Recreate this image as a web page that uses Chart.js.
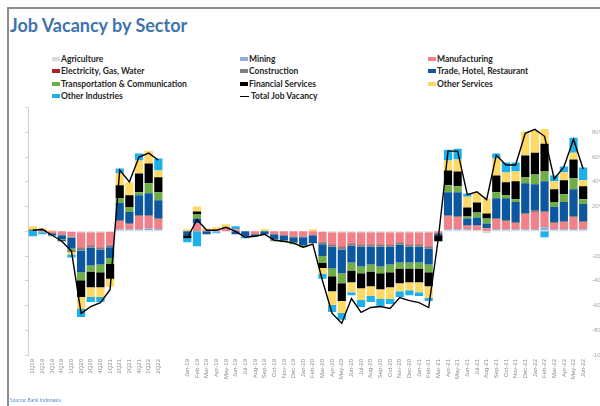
<!DOCTYPE html>
<html>
<head>
<meta charset="utf-8">
<script src="https://cdn.jsdelivr.net/npm/chart.js@4"></script>
<style>
body{margin:0;width:600px;height:406px;overflow:hidden;background:#fff;position:relative;font-family:Lato,'Liberation Sans',sans-serif}
#frame{position:absolute;left:7px;top:7px;width:600px;height:400px;border-top:2px solid #8c8c8c;border-left:2px solid #8c8c8c}
#title{position:absolute;left:10px;top:14px;font-size:18px;font-weight:bold;color:#3f73ae}
#legend{position:absolute;left:52px;top:53px;display:grid;grid-template-columns:188px 188px 188px;grid-auto-rows:12.3px;font-size:8.5px;font-weight:bold;color:#262626}
.item{display:flex;align-items:center;white-space:nowrap}
.box{width:8px;height:4px;margin-right:1px}
.ln{width:9px;height:1px;background:#000;margin-right:2px}
#wrap{position:absolute;left:0;top:100px;width:640px;height:306px}
#src{position:absolute;left:10px;top:397px;font-size:5px;color:#5b8fc9}
</style>
</head>
<body>
<div id="frame"></div>
<div id="title">Job Vacancy by Sector</div>
<div id="legend"></div>
<div id="wrap"><canvas id="jobChart" width="640" height="306"></canvas></div>
<div id="src">Source: Bank Indonesia</div>
<script>
// categories
var quarterLabels = ['1Q19','2Q19','3Q19','4Q19','1Q20','2Q20','3Q20','4Q20','1Q21','2Q21','3Q21','4Q21','1Q22','2Q22'];
var monthLabels = ['Jan-19','Feb-19','Mar-19','Apr-19','May-19','Jun-19','Jul-19','Aug-19','Sep-19','Oct-19','Nov-19','Dec-19',
  'Jan-20','Feb-20','Mar-20','Apr-20','May-20','Jun-20','Jul-20','Aug-20','Sep-20','Oct-20','Nov-20','Dec-20',
  'Jan-21','Feb-21','Mar-21','Apr-21','May-21','Jun-21','Jul-21','Aug-21','Sep-21','Oct-21','Nov-21','Dec-21',
  'Jan-22','Feb-22','Mar-22','Apr-22','May-22','Jun-22'];

// contributions, quarterly (Q) and monthly (M)
var agriQ = [0,0,0,0,-0.4,-0.8,-0.8,-0.8,-0.4,0.8,0.8,0.8,0.8,0.8];
var agriM = [0,0,0,0,0,0,0,0,0,0,0,0, 0,0,-0.4,-0.8,-0.8,-0.8,-0.8,-0.8,-0.8,-0.8,-0.8,-0.8, -0.8,-0.8,0,0.8,0.8,0.8,0.8,-1.6,0.8,0.8,0.8,0.8, 0.8,0.8,0.8,0.8,0.8,0.8];
var miningQ = [0,0,0,0,0,0,0,0,0,0.8,0.8,0.8,1.6,0.8];
var miningM = [0,0,0,-0.8,0,0,0,0,0,0,0,0, 0,0,0,0,0,0,0,0,0,0,0,0, 0,0,0,0.8,0.8,0.8,0,0,0.8,0.8,0.8,0.8, 0.8,2.4,0.8,0.8,0.8,0.8];
var manufQ = [0,-0.8,-1.6,-2.4,-4,-12,-10.4,-12,-10.4,6.4,4,10.4,9.6,8];
var manufM = [0,6.4,0.8,1.6,2.4,1.6,0,-2.4,0,-2.4,-3.2,-4, -4,-3.2,-8,-9.6,-11.2,-8.8,-9.6,-9.6,-9.6,-9.6,-8,-9.6, -9.6,-11.2,-1.6,10.4,9.6,2.4,3.2,2.4,8,6.4,4.8,12, 13.6,12,4.8,5.6,9.6,5.6];
var elecQ = [0,0,0,0,0,-0.4,-0.4,-0.4,-0.4,0.4,0.4,0.4,0.4,0.4];
var elecM = [0,0,0,0,0,0,0,0,0,0,0,0, 0,0,-0.4,-0.4,-0.4,-0.4,-0.4,-0.4,-0.4,-0.4,-0.4,-0.4, -0.4,-0.4,0,0.4,0.4,0.4,0.4,0,0.4,0.4,0.4,0.4, 0.4,0.4,0.4,0.4,0.4,0.4];
var constrQ = [0,0,0,-0.8,-0.8,-2.4,-1.6,-1.6,-1.6,0.8,0.8,0.8,0.8,0.8];
var constrM = [0,0,0,0,0.8,0,0,0,0,0,0,-0.8, -0.8,0,-1.6,-1.6,-2.4,-1.6,-1.6,-1.6,-1.6,-1.6,-1.6,-1.6, -1.6,-1.6,0,0.8,0.8,0.4,0.4,0,0.8,0.8,0.8,0.8, 1.6,0.8,0.8,0.8,0.8,0.8];
var tradeQ = [0.8,0.8,-1.6,-3.2,-8.8,-17.6,-14.4,-12,-8.8,13.6,8.8,16,17.6,14.4];
var tradeM = [-3.2,4,-2.4,0,0,-2.4,-4,-1.6,-2.4,-4,-4,-4, -6.4,-6.4,-9.6,-17.6,-19.2,-13.6,-16,-14.4,-16,-14.4,-14.4,-12.8, -12.8,-12.8,-1.6,18.4,19.2,5.6,6.4,4,16,17.6,16,24, 20.8,24,12,15.2,21.6,13.6];
var transQ = [0.8,0,-0.8,-0.8,-1.6,-6.4,-4.8,-6.4,-4.8,4,4,2.4,8,6.4];
var transM = [0,3.2,0,0,0,0,0,0,0,-1.6,-1.6,-1.6, -1.6,0,-5.6,-6.4,-8,-6.4,-5.6,-5.6,-5.6,-6.4,-4.8,-4.8, -4.8,-6.4,0,5.6,4.8,1.6,4,4,4.8,2.4,2.4,4.8, 8,8,4,6.4,8.8,4];
var finQ = [0,0,0,-0.8,-0.8,-13.6,-12.8,-12,-12,10.4,9.6,15.2,16,12];
var finM = [-2.4,2.4,0,0,0,0,0,0,0,0,0,0, 0,0,-4,-12,-14.4,-9.6,-12,-12,-12.8,-12,-12,-11.2, -11.2,-11.2,-4.8,12,12,7.2,8,4,13.6,10.4,14.4,17.6, 17.6,22.4,10.4,11.2,15.2,10.4];
var othSvcQ = [2.4,1.6,0.8,0,-2.4,-9.6,-8,-8,-6.4,9.6,10.4,10.4,10.4,5.6];
var othSvcM = [1.6,4,1.6,1.6,2.4,0,0,0,1.6,0,0,0, 0,1.6,-4.8,-11.2,-9.6,-8,-9.6,-8,-8,-9.6,-6.4,-6.4, -8,-9.6,0,8,9.6,8.8,8,12,13.6,8,8,19.2, 17.6,12,6.4,6.4,5.6,4.8];
var othIndQ = [-4,-1.6,0,0,-2.4,-6.4,-4,-4,0,4,0,5.6,0,9.6];
var othIndM = [-3.2,-12,0,-0.8,0,2.4,-1.6,0,0,0,0,0, 0,0,-4,-5.6,-5.6,-2.4,-5.6,-4.8,-5.6,-4,-4.8,-4, -3.2,-2.4,0,8.8,8.8,2.4,0,0,4,8,7.2,0, 0,-4.8,4.8,4.8,12,10.4];
var totalQ = [0.8,1.6,-3.2,-8,-16,-66.4,-60.8,-57.6,-47.2,49.6,40,60,63.2,57.6];
var totalM = [-5.6,9.6,0.8,0.8,3.2,0,-4.8,-4,-2.4,-7.2,-8,-9.6, -12.8,-10.4,-40,-66.4,-74.4,-54.4,-65.6,-61.6,-60.8,-62.4,-53.6,-56, -57.6,-61.6,-5.6,64.8,64.8,29.6,32,25.6,61.6,53.6,53.6,79.2, 82.4,76.8,42.4,52,74.4,50.4];

// right axis ticks
var yTicks = [80,60,40,20,0,-20,-40,-60,-80,-100];

var gap = [null, null];
function join(q, m) { return q.concat(gap, m); }

var sectors = [
  {label:'Agriculture', q:agriQ, m:agriM, color:'#d9d9d9'},
  {label:'Mining', q:miningQ, m:miningM, color:'#8faadc'},
  {label:'Manufacturing', q:manufQ, m:manufM, color:'#f28088'},
  {label:'Electricity, Gas, Water', q:elecQ, m:elecM, color:'#b01f24'},
  {label:'Construction', q:constrQ, m:constrM, color:'#808080'},
  {label:'Trade, Hotel, Restaurant', q:tradeQ, m:tradeM, color:'#0c57a0'},
  {label:'Transportation & Communication', q:transQ, m:transM, color:'#70ad47'},
  {label:'Financial Services', q:finQ, m:finM, color:'#000000'},
  {label:'Other Services', q:othSvcQ, m:othSvcM, color:'#ffd966'},
  {label:'Other Industries', q:othIndQ, m:othIndM, color:'#1cb0ec'}
];

var datasets = sectors.map(function (s) {
  return {type:'bar', label:s.label, data:join(s.q, s.m), backgroundColor:s.color,
    barPercentage:0.85, categoryPercentage:1, order:1, yAxisID:'y'};
});
datasets.push({type:'line', label:'Total Job Vacancy', data:join(totalQ, totalM),
  borderColor:'#000', borderWidth:1.4, pointRadius:0, tension:0, fill:false, order:0, yAxisID:'y'});

// legend
var leg = document.getElementById('legend');
datasets.forEach(function (d) {
  var mark = d.type === 'line' ? '<span class="ln"></span>' : '<span class="box" style="background:' + d.backgroundColor + '"></span>';
  leg.innerHTML += '<div class="item">' + mark + d.label + '</div>';
});

var tickFont = {family:'Liberation Sans', size:6};

var ctx = document.getElementById('jobChart').getContext('2d');
new Chart(ctx, {
  data: {labels: quarterLabels.concat(['', ''], monthLabels), datasets: datasets},
  options: {
    responsive: false,
    animation: false,
    devicePixelRatio: 1,
    layout: {padding: {left:22, right:12, top:5, bottom:5}},
    plugins: {legend: {display:false}, tooltip: {enabled:false}},
    scales: {
      x: {stacked:true, grid:{display:false, drawTicks:false}, border:{display:false},
        ticks:{autoSkip:false, maxRotation:90, minRotation:90, font:tickFont, color:'#8c8c8c', padding:4},
        afterFit: function (s) { s.height = 46; }},
      y: {position:'right', stacked:true, min:-100, max:100,
        grid:{display:false, drawTicks:false}, border:{display:false},
        afterBuildTicks: function (s) { s.ticks = yTicks.map(function (v) { return {value:v}; }); },
        ticks:{padding:4, font:tickFont, color:'#a6a6a6', callback: function (v) { return v === 0 ? '' : v + '%'; }},
        afterFit: function (s) { s.width = 40; }},
      yL: {position:'left', min:-100, max:100,
        grid:{drawOnChartArea:false, tickLength:3, color:'#d0d0d0'}, border:{color:'#d0d0d0'},
        ticks:{stepSize:20, padding:0, callback: function () { return ''; }},
        afterFit: function (s) { s.width = 6; }}
    }
  }
});
</script>
</body>
</html>
